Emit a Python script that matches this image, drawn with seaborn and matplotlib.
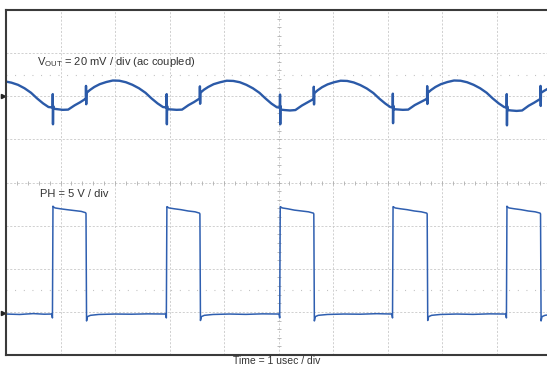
import numpy as np
import matplotlib
matplotlib.use('Agg')
import matplotlib.pyplot as plt
import seaborn as sns
import pandas as pd

# Scope settings: 1 usec/div, VOUT 20 mV/div (ac coupled), PH 5 V/div
VOUT_SCALE = 20.0   # mV per div
PH_SCALE = 5.0      # V per div
VOUT_REF = 6.0      # VOUT ground marker, divisions from bottom
PH_REF = 0.97       # PH ground marker, divisions from bottom

# VOUT ripple (time in usec, value in mV)
vout_time = [
    0.00, 0.10, 0.22, 0.34, 0.46, 0.57, 0.68, 0.78, 0.855, 0.858, 0.862, 0.866, 0.875,
    0.94, 1.04, 1.14, 1.26, 1.36, 1.44, 1.465, 1.468, 1.472, 1.476,
    1.54, 1.62, 1.72, 1.84, 1.96, 2.08, 2.20, 2.32, 2.44, 2.56, 2.67, 2.78, 2.88,
    2.945, 2.948, 2.952, 2.956, 2.965,
    3.03, 3.13, 3.23, 3.35, 3.45, 3.53, 3.555, 3.558, 3.562, 3.566,
    3.63, 3.71, 3.81, 3.93, 4.05, 4.17, 4.29, 4.41, 4.53, 4.65, 4.76, 4.87, 4.97,
    5.025, 5.028, 5.032, 5.036, 5.045,
    5.11, 5.21, 5.31, 5.43, 5.53, 5.62, 5.645, 5.648, 5.652, 5.656,
    5.72, 5.80, 5.90, 6.02, 6.14, 6.26, 6.38, 6.50, 6.62, 6.74, 6.85, 6.96, 7.05,
    7.095, 7.098, 7.102, 7.106, 7.115,
    7.18, 7.28, 7.38, 7.50, 7.60, 7.70, 7.725, 7.728, 7.732, 7.736,
    7.80, 7.88, 7.98, 8.10, 8.22, 8.34, 8.46, 8.58, 8.70, 8.82, 8.93, 9.04, 9.14,
    9.185, 9.188, 9.192, 9.196, 9.205,
    9.27, 9.37, 9.47, 9.59, 9.69, 9.78, 9.805, 9.808, 9.812, 9.816,
    9.88, 9.95, 10.0,
]
vout_mv = [
    6.8, 6.3, 5.3, 3.7, 1.6, -1.0, -3.3, -5.0, -5.2, 1.0, -13.0, -4.5, -5.8,
    -6.0, -6.3, -6.2, -4.2, -2.8, -1.5, -1.3, 4.8, -3.7, 1.5,
    2.9, 4.3, 5.6, 6.6, 7.3, 7.2, 6.5, 5.3, 3.7, 1.6, -1.0, -3.3, -5.0,
    -5.2, 1.0, -13.0, -4.5, -6.0,
    -6.1, -6.3, -6.2, -4.1, -2.7, -1.4, -1.2, 4.6, -3.5, 1.6,
    3.0, 4.3, 5.6, 6.5, 7.2, 7.1, 6.5, 5.3, 3.7, 1.6, -1.0, -3.4, -5.1,
    -5.3, 0.8, -13.0, -4.6, -6.2,
    -6.4, -6.6, -6.4, -4.3, -2.9, -1.6, -1.4, 4.4, -3.8, 1.4,
    2.8, 4.2, 5.5, 6.5, 7.2, 7.1, 6.4, 5.2, 3.6, 1.5, -1.1, -3.4, -5.0,
    -5.2, 1.2, -12.5, -4.4, -6.0,
    -6.1, -6.3, -6.2, -4.1, -2.8, -1.5, -1.3, 4.7, -3.6, 1.5,
    2.9, 4.3, 5.6, 6.6, 7.3, 7.2, 6.5, 5.3, 3.7, 1.6, -1.0, -3.3, -5.0,
    -5.2, 1.0, -13.5, -4.6, -6.4,
    -6.6, -6.8, -6.6, -4.4, -3.0, -1.6, -1.4, 4.8, -4.5, 1.6,
    2.6, 3.6, 4.3,
]

# Switch node PH (time in usec, value in V)
ph_time = [
    0.00, 0.25, 0.50, 0.70, 0.84, 0.852, 0.862, 0.875, 0.90, 1.00, 1.12, 1.25, 1.38, 1.46, 1.468, 1.478, 1.495, 1.55, 1.70,
    2.00, 2.30, 2.60, 2.93, 2.942, 2.952, 2.965, 2.99, 3.09, 3.21, 3.34, 3.47, 3.55, 3.558, 3.568, 3.585, 3.64, 3.80,
    4.10, 4.40, 4.70, 5.01, 5.022, 5.032, 5.045, 5.07, 5.17, 5.29, 5.42, 5.55, 5.64, 5.648, 5.658, 5.675, 5.73, 5.90,
    6.20, 6.50, 6.80, 7.08, 7.092, 7.102, 7.115, 7.14, 7.24, 7.36, 7.49, 7.62, 7.72, 7.728, 7.738, 7.755, 7.81, 7.97,
    8.27, 8.57, 8.87, 9.17, 9.182, 9.192, 9.205, 9.23, 9.33, 9.45, 9.58, 9.71, 9.80, 9.808, 9.818, 9.835, 9.89, 10.0,
]
ph_volts = [
    -0.10, -0.15, -0.05, -0.12, -0.10, -0.55, 12.40, 12.30, 12.20, 12.10, 12.00, 11.90, 11.80, 11.65, 11.55, -0.90, -0.40, -0.25, -0.15,
    -0.10, -0.12, -0.08, -0.10, -0.55, 12.35, 12.30, 12.20, 12.10, 12.00, 11.85, 11.75, 11.60, 11.50, -0.85, -0.40, -0.25, -0.15,
    -0.10, -0.14, -0.08, -0.10, -0.55, 12.35, 12.30, 12.20, 12.10, 11.95, 11.85, 11.75, 11.60, 11.50, -0.90, -0.40, -0.25, -0.15,
    -0.10, -0.12, -0.06, -0.10, -0.55, 12.35, 12.30, 12.20, 12.10, 12.00, 11.85, 11.75, 11.60, 11.50, -0.85, -0.40, -0.25, -0.15,
    -0.10, -0.14, -0.08, -0.10, -0.55, 12.40, 12.30, 12.20, 12.10, 12.00, 11.85, 11.75, 11.60, 11.50, -0.90, -0.40, -0.25, -0.15,
]

vout_df = pd.DataFrame({'time': vout_time, 'div': VOUT_REF + np.array(vout_mv) / VOUT_SCALE})
ph_df = pd.DataFrame({'time': ph_time, 'div': PH_REF + np.array(ph_volts) / PH_SCALE})

sns.set_style('white')
plt.rcParams['font.family'] = ['Liberation Sans', 'DejaVu Sans']
plt.rcParams['mathtext.fontset'] = 'custom'
plt.rcParams['mathtext.rm'] = 'Liberation Sans'

fig = plt.figure(figsize=(5.47, 3.67), dpi=100)
ax = fig.add_axes([6 / 547, 12 / 367, 545 / 547, 345 / 367])

# graticule
ax.set_xlim(0, 10)
ax.set_ylim(0, 8)
ax.set_xticks(range(0, 11))
ax.set_yticks(range(0, 9))
ax.tick_params(length=0, labelbottom=False, labelleft=False)
ax.grid(True, color='#c9c9c9', linestyle=(0, (2.5, 2)), linewidth=0.6)
minor = np.arange(0, 10.01, 0.2)
ax.plot(minor, np.full_like(minor, 4.0), ls='none', marker='|', ms=3, mew=0.6, color='#b0b0b0')
minor_y = np.arange(0, 8.01, 0.2)
ax.plot(np.full_like(minor_y, 5.0), minor_y, ls='none', marker='_', ms=3, mew=0.6, color='#b0b0b0')
ax.hlines([1.5, 6.5], 0, 10, colors='#b8b8b8', linestyles=(0, (0.8, 7)), linewidth=0.8)

for side in ['left', 'top', 'bottom', 'right']:
    ax.spines[side].set_color('#3a3a3a')
    ax.spines[side].set_linewidth(1.5)

# traces
sns.lineplot(data=vout_df, x='time', y='div', estimator=None, sort=False,
             color='#2b5aa8', linewidth=1.7, ax=ax)
sns.lineplot(data=ph_df, x='time', y='div', estimator=None, sort=False,
             color='#2f5fb0', linewidth=1.1, ax=ax)
ax.set_xlabel('')
ax.set_ylabel('')

# ground reference markers
ax.plot([-0.06], [VOUT_REF], marker='>', ms=3, color='#222222', clip_on=False)
ax.plot([-0.06], [PH_REF], marker='>', ms=3, color='#222222', clip_on=False)

ax.text(0.57, 6.79, r'V$_{\mathrm{OUT}}$ = 20 mV / div (ac coupled)', fontsize=8,
        color='#333333', va='center', ha='left')
ax.text(0.62, 3.73, 'PH = 5 V / div', fontsize=8, color='#333333', va='center', ha='left')
fig.text(277 / 547, 1.5 / 367, 'Time = 1 usec / div', fontsize=7.5, color='#333333',
         ha='center', va='bottom')

fig.savefig('out.png', dpi=100)
